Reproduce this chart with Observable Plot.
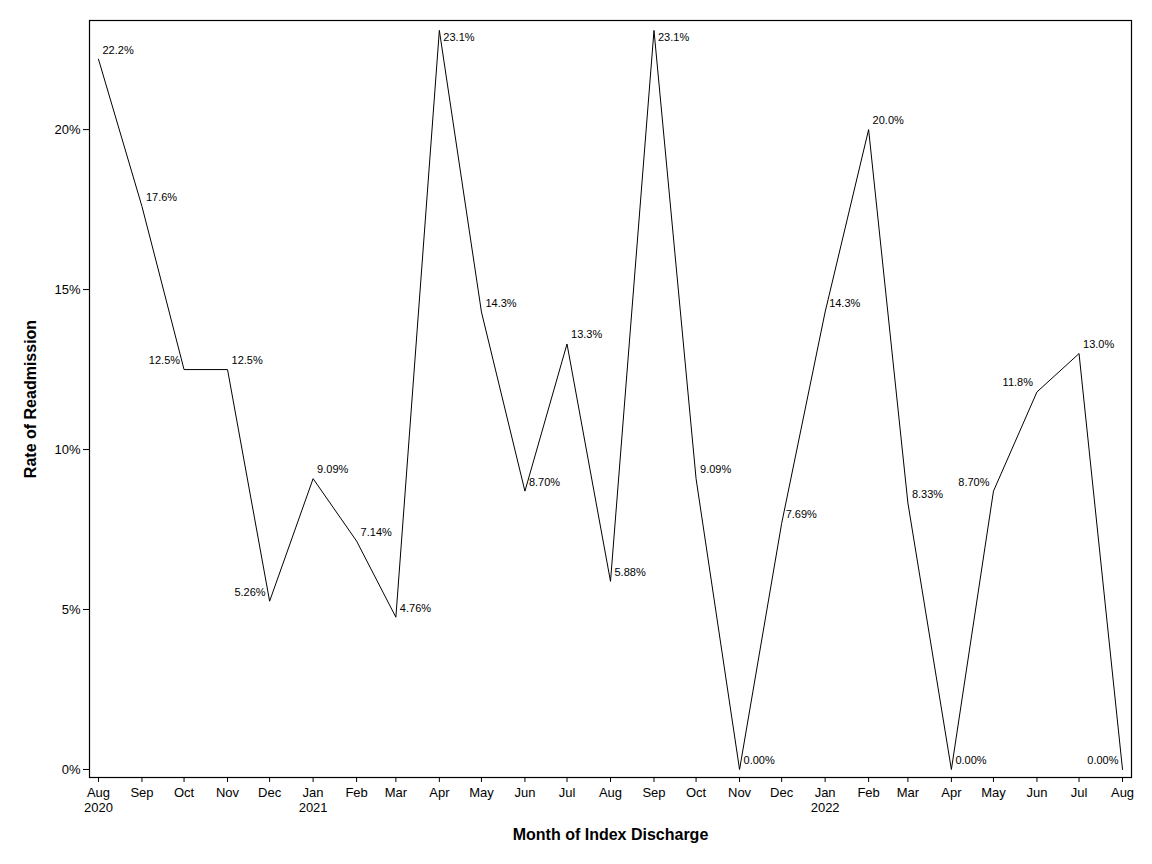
<!DOCTYPE html>
<html>
<head>
<meta charset="utf-8">
<script src="https://cdn.jsdelivr.net/npm/d3@7"></script>
<script src="https://cdn.jsdelivr.net/npm/@observablehq/plot@0.6"></script>
<style>
  body { margin: 0; background: #fff; }
</style>
</head>
<body>
<div id="chart"></div>
<script>
const months = [
  "2020-08-01","2020-09-01","2020-10-01","2020-11-01","2020-12-01",
  "2021-01-01","2021-02-01","2021-03-01","2021-04-01","2021-05-01","2021-06-01","2021-07-01",
  "2021-08-01","2021-09-01","2021-10-01","2021-11-01","2021-12-01",
  "2022-01-01","2022-02-01","2022-03-01","2022-04-01","2022-05-01","2022-06-01","2022-07-01","2022-08-01"
];
const rates = [
  22.2, 17.6, 12.5, 12.5, 5.26,
  9.09, 7.14, 4.76, 23.1, 14.3, 8.70, 13.3,
  5.88, 23.1, 9.09, 0.00, 7.69,
  14.3, 20.0, 8.33, 0.00, 8.70, 11.8, 13.0, 0.00
];
// where each value label sits relative to its point
const labelPlacement = [
  "right","right","left","right","left",
  "right","right","right","below","right","right","right",
  "right","below","right","right","right",
  "right","right","right","right","left","left","right","left"
];
const xTickLabels = [
  "Aug\n2020","Sep","Oct","Nov","Dec",
  "Jan\n2021","Feb","Mar","Apr","May","Jun","Jul",
  "Aug","Sep","Oct","Nov","Dec",
  "Jan\n2022","Feb","Mar","Apr","May","Jun","Jul","Aug"
];
const yTicks = [0, 5, 10, 15, 20];
const xTitle = "Month of Index Discharge";
const yTitle = "Rate of Readmission";

const data = months.map((m, i) => ({
  date: new Date(m + "T00:00:00Z"),
  rate: rates[i],
  place: labelPlacement[i],
  label: d3.format(".3r")(rates[i]) + "%"
}));
const tickDates = data.map(d => d.date);
const tickLabelOf = new Map(tickDates.map((d, i) => [+d, xTickLabels[i]]));

const dayMs = 86400000;
const x0 = new Date(+tickDates[0] - 6.4 * dayMs);
const x1 = new Date(+tickDates[tickDates.length - 1] + 6.4 * dayMs);

const chart = Plot.plot({
  width: 1152,
  height: 864,
  marginLeft: 89,
  marginRight: 21,
  marginTop: 20,
  marginBottom: 87,
  style: {fontFamily: "'Liberation Sans', Arial, sans-serif", fontSize: "13px", background: "#fff", color: "#000"},
  x: {type: "utc", domain: [x0, x1]},
  y: {domain: [-0.25, 23.41]},
  marks: [
    Plot.frame({stroke: "#000", strokeWidth: 1.2}),
    Plot.axisY({ticks: yTicks, tickFormat: d => d + "%", tickSize: 6, tickPadding: 3, label: null, fontSize: 13}),
    Plot.axisY({ticks: [], tickSize: 0, label: yTitle, labelAnchor: "center", labelArrow: "none", labelOffset: 65, fontSize: 16, fontWeight: "bold"}),
    Plot.axisX({ticks: tickDates, tickFormat: d => tickLabelOf.get(+d), tickSize: 5, tickPadding: 4, label: null, fontSize: 13, lineHeight: 1.15}),
    Plot.line(data, {x: "date", y: "rate", stroke: "#000", strokeWidth: 1}),
    Plot.text(data.filter(d => d.place === "right"), {x: "date", y: "rate", text: "label", dx: 4, dy: -9, textAnchor: "start", fontSize: 11}),
    Plot.text(data.filter(d => d.place === "left"), {x: "date", y: "rate", text: "label", dx: -4, dy: -9, textAnchor: "end", fontSize: 11}),
    Plot.text(data.filter(d => d.place === "below"), {x: "date", y: "rate", text: "label", dx: 4, dy: 7, textAnchor: "start", fontSize: 11}),
    Plot.text([xTitle], {text: d => d, frameAnchor: "bottom", dy: 62, fontWeight: "bold", fontSize: 16})
  ]
});
document.getElementById("chart").appendChild(chart);
</script>
</body>
</html>
